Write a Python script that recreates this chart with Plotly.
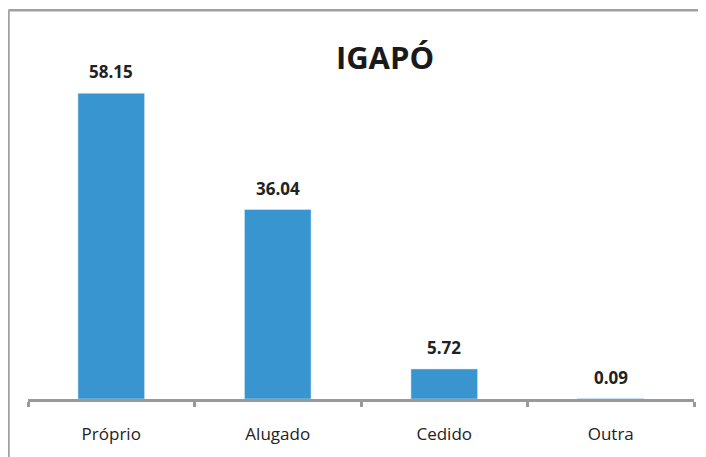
import plotly.graph_objects as go

categories = ["Próprio", "Alugado", "Cedido", "Outra"]
values = [58.15, 36.04, 5.72, 0.09]
labels = ["58.15", "36.04", "5.72", "0.09"]

fig = go.Figure(go.Bar(
    x=categories, y=values,
    marker_color="#3895CF", width=0.4,
))

for c, v, t in zip(categories, values, labels):
    fig.add_annotation(x=c, y=v, text="<b>%s</b>" % t, showarrow=False,
                       yanchor="bottom", yshift=8,
                       font=dict(size=17, color="#222222"))

# page body has an 8px margin, so the figure is 8px smaller and shifted
# border on top and left only (right/bottom cut off in the original)
fig.add_shape(type="line", xref="paper", yref="paper", x0=-0.0293, x1=1.05, y0=1.0566, y1=1.0566,
              line=dict(color="#A0A0A0", width=2.5))
fig.add_shape(type="line", xref="paper", yref="paper", x0=-0.0293, x1=-0.0293, y0=1.0566, y1=-0.2,
              line=dict(color="#A0A0A0", width=2.5))

fig.update_layout(
    width=698, height=449,
    margin=dict(l=20, r=12, t=23, b=55),
    paper_bgcolor="white", plot_bgcolor="white",
    font=dict(family="Open Sans, Noto Sans, sans-serif", color="#222222"),
    title=dict(text="<b>IGAPÓ</b>", x=377/698, xanchor="center",
               y=1-50/449, yanchor="middle", font=dict(size=31, color="#1a1a1a")),
    showlegend=False,
)
fig.update_xaxes(showline=True, linecolor="#999999", linewidth=2.5,
                 ticks="outside", tickson="boundaries", ticklen=5, tickwidth=2.5,
                 tickcolor="#999999", tickfont=dict(size=17), ticklabelstandoff=18)
fig.update_yaxes(range=[0, 70], visible=False)

fig.write_html("out.html", config={"displayModeBar": False})
